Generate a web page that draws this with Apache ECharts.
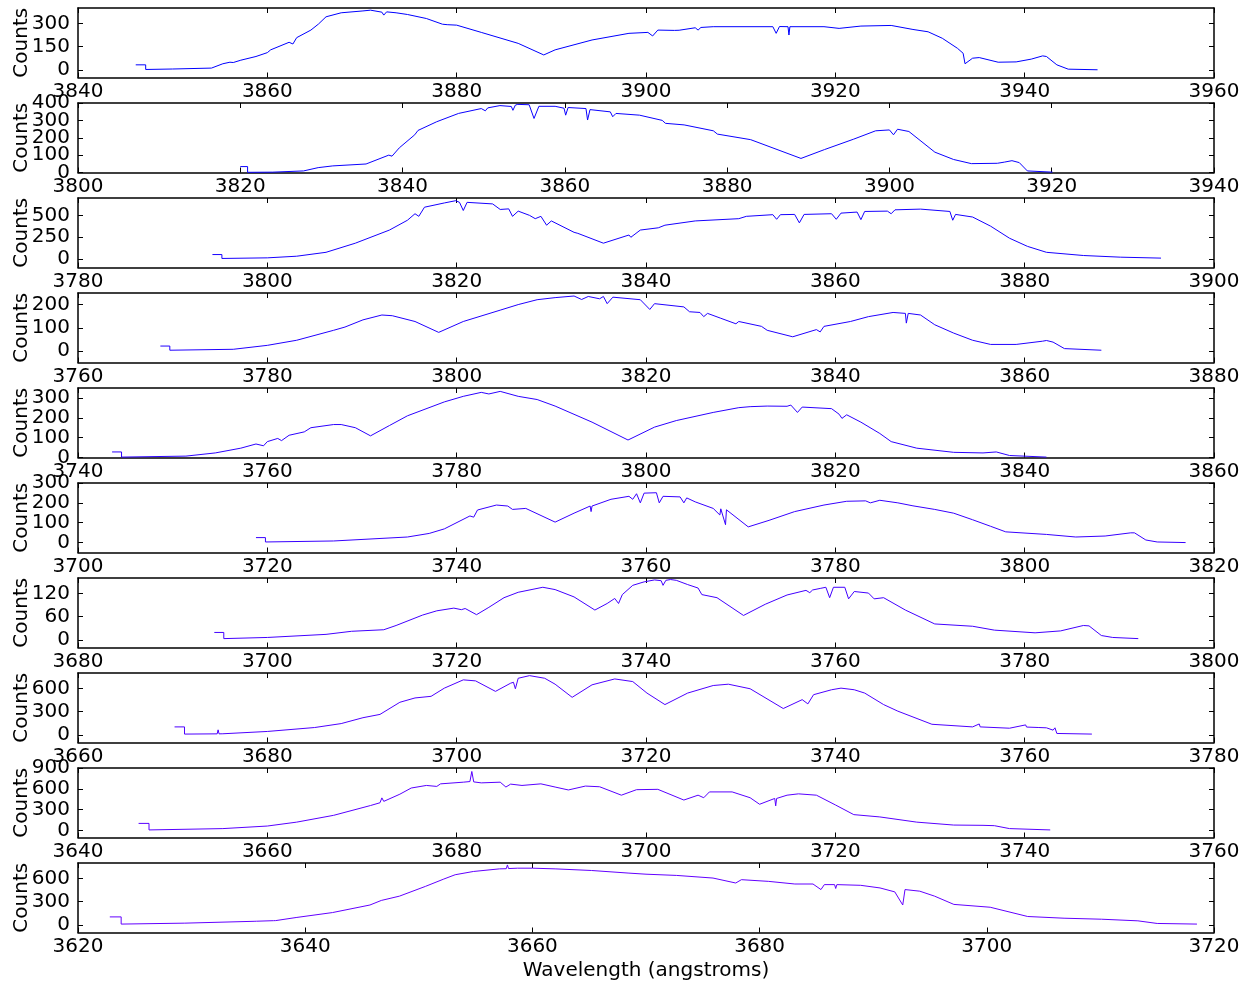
<!DOCTYPE html>
<html lang="en">
  <head>
    <meta charset="utf-8" />
    <title>Counts vs wavelength</title>
    <script src="https://cdn.jsdelivr.net/npm/echarts@6/dist/echarts.min.js"></script>
    <style>
      html, body { margin: 0; padding: 0; background: #fff; }
      #chart { width: 1252px; height: 985px; }
    </style>
  </head>
  <body>
    <div id="chart"></div>
    <script>
      // one spectrum order per panel, top to bottom (wavelength in angstroms, counts)
      var wave1 = [3846.1, 3847.15, 3847.15, 3850, 3854.1, 3855.3, 3856.05, 3856.4, 3857.2, 3858.8, 3860, 3860.35, 3862.3, 3862.7, 3863.1, 3864.6, 3865.4, 3866.2, 3867.8, 3870.1, 3870.9, 3872.1, 3872.3, 3872.6, 3873.6, 3874.8, 3876.8, 3878.5, 3878.7, 3879, 3880, 3882.6, 3886.5, 3889.2, 3890.4, 3894.3, 3898.2, 3900.2, 3900.7, 3901.25, 3903, 3903.2, 3903.5, 3905.2, 3905.5, 3905.8, 3907.1, 3913.4, 3913.75, 3914.1, 3915.0, 3915.1, 3915.2, 3918.8, 3920.4, 3922.7, 3925.9, 3928.2, 3929.8, 3931.3, 3932.9, 3933.5, 3933.7, 3934.5, 3935.2, 3937.2, 3939.1, 3940.7, 3941.9, 3942.3, 3943.4, 3944.6, 3947.7]
      var counts1 = [32, 32, 2, 5, 11, 39, 49, 47, 62, 86, 111, 129, 178, 167, 208, 257, 296, 343, 369, 381, 386, 373, 354, 375, 369, 358, 332, 295, 285, 292, 289, 242, 171, 96, 129, 193, 236, 242, 219, 257, 255, 248, 256, 272, 257, 274, 279, 279, 236, 280, 279, 225, 279, 279, 268, 283, 287, 261, 246, 204, 139, 107, 39, 75, 79, 49, 51, 69, 90, 86, 32, 4, 0]

      var wave2 = [3820, 3820.9, 3820.9, 3824, 3827.8, 3829.6, 3831.4, 3835.5, 3838.3, 3838.7, 3839.6, 3841.5, 3841.9, 3844.2, 3846.9, 3849.7, 3850.2, 3850.5, 3852, 3853.4, 3853.6, 3853.9, 3854.2, 3855.6, 3856.2, 3856.8, 3858.8, 3859.9, 3860.1, 3860.4, 3862.6, 3862.8, 3863.1, 3865.6, 3865.9, 3866.3, 3869.2, 3872.0, 3872.4, 3874.7, 3878.3, 3878.8, 3882.9, 3889.1, 3892, 3895.6, 3898.3, 3900, 3900.5, 3901, 3902.4, 3905.6, 3907.9, 3910.1, 3913.3, 3914.2, 3915.1, 3916, 3917, 3920.1]
      var counts2 = [34, 34, 1, 2, 9, 28, 38, 49, 100, 94, 142, 217, 242, 292, 340, 368, 355, 372, 385, 380, 358, 388, 392, 390, 311, 381, 381, 370, 330, 374, 368, 302, 362, 349, 321, 340, 330, 300, 283, 274, 240, 221, 189, 81, 132, 192, 240, 245, 217, 249, 236, 117, 75, 51, 53, 60, 68, 57, 9, 2]

      var wave3 = [3794.2, 3795.2, 3795.2, 3800, 3803.1, 3806.2, 3809.3, 3812.9, 3814.8, 3815.6, 3816, 3816.6, 3818.7, 3819.9, 3820.3, 3820.7, 3821.1, 3823.8, 3824.6, 3825.5, 3825.9, 3826.5, 3827.7, 3828.3, 3828.9, 3829.5, 3830, 3832.4, 3832.8, 3835.5, 3838.2, 3838.4, 3839.4, 3841.3, 3842, 3845.2, 3849.8, 3850.6, 3853.4, 3853.8, 3854.2, 3855.7, 3856.2, 3856.7, 3859.6, 3860.1, 3860.6, 3862.3, 3862.7, 3863.1, 3865.5, 3865.9, 3866.3, 3869, 3872.1, 3872.4, 3872.7, 3874.5, 3876.4, 3878.4, 3880.3, 3882.3, 3886.2, 3890.1, 3894.4]
      var counts3 = [49, 49, 4, 11, 30, 75, 180, 331, 444, 519, 489, 594, 643, 669, 650, 556, 650, 632, 568, 575, 489, 549, 500, 462, 489, 387, 436, 305, 293, 180, 274, 248, 331, 357, 387, 436, 462, 489, 508, 455, 508, 511, 414, 511, 519, 455, 526, 538, 451, 545, 549, 519, 564, 572, 545, 444, 511, 481, 376, 237, 143, 75, 38, 19, 8]

      var wave4 = [3768.7, 3769.7, 3769.7, 3776.4, 3780, 3783.1, 3787, 3788.2, 3790.1, 3792.1, 3793.2, 3795.6, 3798.1, 3800.7, 3804.6, 3806.5, 3808.5, 3810.4, 3812.4, 3813.2, 3813.9, 3815.1, 3815.5, 3815.9, 3816.5, 3819.4, 3820.4, 3820.9, 3824, 3824.6, 3825.7, 3826.1, 3826.5, 3827.9, 3829.5, 3829.8, 3832.2, 3832.8, 3835.5, 3838, 3838.4, 3838.8, 3841.6, 3843.5, 3846.1, 3847.4, 3847.5, 3847.7, 3849, 3850.5, 3852.5, 3854.5, 3856.4, 3859.1, 3861.9, 3862.3, 3863, 3864.2, 3868.1]
      var counts4 = [21, 21, 3, 7, 24, 46, 89, 103, 134, 155, 152, 127, 80, 127, 176, 200, 221, 230, 237, 222, 235, 225, 235, 204, 232, 221, 179, 204, 190, 169, 166, 148, 162, 141, 117, 127, 106, 89, 61, 92, 82, 106, 127, 148, 166, 162, 120, 162, 155, 113, 77, 46, 28, 28, 42, 45, 38, 10, 3]

      var wave5 = [3743.6, 3744.6, 3744.6, 3751.4, 3754.5, 3757.2, 3758.8, 3759.6, 3760, 3761.1, 3761.5, 3762.3, 3763.9, 3764.6, 3767, 3767.8, 3769.3, 3770.9, 3772.9, 3774.8, 3778.7, 3780.7, 3782.6, 3783.4, 3784.6, 3786.5, 3788.5, 3790.4, 3794.3, 3798.1, 3800.9, 3803.2, 3807.1, 3809.8, 3811, 3812.8, 3814.9, 3815.3, 3816, 3816.5, 3819.6, 3820.4, 3820.7, 3821.2, 3822.7, 3824.7, 3825.9, 3828.6, 3832.5, 3835.6, 3837, 3838.4, 3842.3]
      var counts5 = [28, 28, 2, 7, 23, 47, 68, 59, 80, 96, 85, 112, 129, 150, 166, 166, 150, 109, 161, 210, 280, 308, 328, 320, 333, 308, 292, 259, 178, 88, 153, 186, 227, 251, 256, 259, 258, 264, 227, 254, 246, 218, 197, 215, 178, 121, 80, 47, 26, 23, 28, 10, 2]

      var wave6 = [3718.8, 3719.8, 3719.8, 3727, 3734.8, 3737.1, 3738.7, 3741.4, 3741.8, 3742.2, 3744.2, 3745.4, 3745.9, 3747.3, 3750.4, 3752.4, 3754.1, 3754.2, 3754.3, 3756.3, 3758.2, 3758.6, 3759, 3759.4, 3759.8, 3761.1, 3761.4, 3761.8, 3763.6, 3764, 3764.3, 3765.2, 3767.1, 3767.8, 3767.9, 3768.4, 3768.5, 3770.8, 3773, 3775.7, 3778.8, 3781.2, 3783.2, 3783.7, 3784.7, 3786.6, 3788.2, 3790.5, 3792.5, 3794.5, 3796.4, 3798, 3802.3, 3805.4, 3808.5, 3811.2, 3811.6, 3812.8, 3814, 3817]
      var counts6 = [25, 25, 3, 8, 28, 46, 69, 134, 128, 164, 189, 184, 167, 172, 103, 148, 184, 156, 184, 218, 233, 218, 246, 200, 249, 251, 200, 233, 230, 200, 225, 205, 172, 139, 170, 90, 165, 79, 112, 156, 189, 208, 210, 200, 213, 200, 185, 167, 148, 115, 82, 54, 41, 28, 33, 49, 49, 13, 3, 0]

      var wave7 = [3694.4, 3695.4, 3695.4, 3700, 3706.2, 3708.9, 3712.3, 3713.6, 3716.4, 3717.9, 3719.7, 3720.5, 3720.9, 3722.1, 3723.4, 3725, 3726.5, 3729.1, 3730.4, 3732.4, 3734.6, 3735.9, 3736.7, 3737.1, 3737.5, 3738.6, 3739.8, 3740.9, 3741.6, 3741.8, 3742.1, 3742.6, 3743.2, 3744.4, 3745.5, 3745.9, 3747.5, 3750.3, 3752.6, 3754.9, 3756.9, 3757.3, 3757.6, 3758.4, 3759, 3759.4, 3759.8, 3761, 3761.4, 3762, 3763.5, 3764.1, 3765.1, 3767.4, 3770.5, 3774.5, 3776.8, 3781.1, 3783.8, 3786.2, 3786.8, 3788.1, 3789.3, 3792]
      var counts7 = [19, 19, 3, 6, 14, 22, 26, 37, 64, 75, 82, 78, 81, 65, 84, 109, 123, 136, 130, 111, 77, 94, 107, 94, 117, 141, 150, 155, 153, 141, 154, 156, 154, 143, 134, 117, 109, 63, 92, 116, 128, 122, 129, 133, 136, 109, 136, 136, 106, 125, 121, 106, 109, 77, 41, 35, 25, 18, 23, 37, 36, 11, 6, 3]

      var wave8 = [3670.2, 3671.25, 3671.25, 3674.7, 3674.8, 3674.9, 3675.3, 3680, 3685, 3687.8, 3690.1, 3691.9, 3694, 3695.6, 3697.3, 3698.7, 3700.7, 3702, 3704.1, 3705.7, 3706, 3706.2, 3706.5, 3707.7, 3709.3, 3710.4, 3712.2, 3714.3, 3716.7, 3718.6, 3720.1, 3722, 3724.4, 3727.1, 3728.7, 3731, 3734.5, 3736.5, 3737.1, 3737.7, 3739.6, 3740.6, 3742, 3743.1, 3745.1, 3746.6, 3750.2, 3754.5, 3755.2, 3755.3, 3758.4, 3760.1, 3760.2, 3761.5, 3762.3, 3763, 3763.2, 3763.4, 3767.1]
      var counts8 = [102, 102, 9, 12, 64, 12, 13, 43, 94, 145, 221, 264, 421, 477, 498, 604, 711, 698, 562, 668, 680, 596, 732, 766, 732, 655, 485, 647, 723, 689, 540, 391, 540, 638, 655, 596, 340, 455, 400, 519, 583, 604, 583, 540, 391, 306, 136, 102, 140, 102, 85, 128, 100, 94, 90, 60, 90, 17, 9]

      var wave9 = [3646.4, 3647.5, 3647.5, 3655.3, 3660, 3663.1, 3667, 3670.9, 3671.9, 3672.1, 3672.3, 3674, 3675.2, 3676.8, 3677.9, 3678.3, 3680.7, 3681.4, 3681.6, 3681.8, 3682.6, 3684.6, 3685.2, 3685.7, 3686.9, 3688.9, 3690.4, 3691.8, 3693.6, 3695.1, 3697.4, 3699, 3701.25, 3704, 3705.5, 3706.1, 3706.7, 3709.1, 3711, 3712, 3713.6, 3713.7, 3713.8, 3714.9, 3716.1, 3718, 3720, 3721.95, 3724.7, 3728.6, 3732.5, 3735.6, 3736.8, 3738.4, 3742.7]
      var counts9 = [103, 103, 9, 28, 65, 121, 219, 360, 400, 470, 420, 523, 612, 649, 635, 672, 696, 705, 850, 700, 686, 696, 626, 668, 649, 672, 626, 584, 640, 630, 509, 588, 593, 439, 509, 472, 556, 556, 472, 378, 462, 355, 462, 509, 528, 509, 369, 229, 196, 121, 79, 75, 70, 28, 9]

      var wave10 = [3622.8, 3623.8, 3623.8, 3629.4, 3635.5, 3635.6, 3635.7, 3637.2, 3637.3, 3637.4, 3639.2, 3642.4, 3645.7, 3646.7, 3648.3, 3650.6, 3652.2, 3653.2, 3654.8, 3657.1, 3657.7, 3657.8, 3657.9, 3658.7, 3660, 3662, 3665.2, 3668.5, 3670, 3672.7, 3675.9, 3677.9, 3678.4, 3680.8, 3683.1, 3684.7, 3685.4, 3685.7, 3686.6, 3686.7, 3686.8, 3688.9, 3690.6, 3691.9, 3692.6, 3692.8, 3694.1, 3695.4, 3697.1, 3700.3, 3703.6, 3706.8, 3710.1, 3713.3, 3715, 3718.5]
      var counts10 = [102, 102, 9, 21, 45, 70, 46, 53, 75, 54, 94, 158, 256, 315, 371, 498, 592, 648, 690, 724, 726, 775, 728, 733, 733, 724, 703, 669, 655, 639, 605, 541, 584, 562, 528, 528, 456, 520, 520, 470, 520, 511, 477, 426, 256, 456, 435, 371, 264, 227, 107, 85, 72, 51, 17, 9]

      // axis limits and y tick values per panel
      var xMin = [3840, 3800, 3780, 3760, 3740, 3700, 3680, 3660, 3640, 3620]
      var xMax = [3960, 3940, 3900, 3880, 3860, 3820, 3800, 3780, 3760, 3720]
      var yMin = [-50, 0, -100, -50, 0, -50, -20, -100, -100, -100]
      var yMax = [400, 400, 700, 250, 350, 300, 160, 800, 900, 800]
      var yTicks = [
        [0, 150, 300],
        [0, 100, 200, 300, 400],
        [0, 250, 500],
        [0, 100, 200],
        [0, 100, 200, 300],
        [0, 100, 200, 300],
        [0, 60, 120],
        [0, 300, 600],
        [0, 300, 600, 900],
        [0, 300, 600]
      ]

      var waves = [wave1, wave2, wave3, wave4, wave5, wave6, wave7, wave8, wave9, wave10]
      var counts = [counts1, counts2, counts3, counts4, counts5, counts6, counts7, counts8, counts9, counts10]
      var lineColors = ['#0000ff', '#0b00ff', '#1600ff', '#2100ff', '#2c00ff', '#3700ff', '#4200ff', '#4d00ff', '#5800ff', '#6300ff']

      var font = 'DejaVu Sans'
      var fontSize = 20
      var plain = function (v) { return String(v) }
      var frame = { show: true, onZero: false, lineStyle: { color: '#000', width: 1.5 } }
      var tick = { show: true, inside: true, length: 5, lineStyle: { color: '#000', width: 1 } }

      var grids = []
      var xAxes = []
      var yAxes = []
      var series = []
      var n = waves.length

      for (var i = 0; i < n; i++) {
        grids.push({ left: 78, width: 1136, top: 8 + i * 95, height: 69.5, outerBoundsMode: 'none', containLabel: false })
      }
      // bottom x axes with labels
      for (var i = 0; i < n; i++) {
        var bottom = {
          type: 'value', gridIndex: i, position: 'bottom',
          min: xMin[i], max: xMax[i], interval: 20,
          axisLine: frame, axisTick: tick, splitLine: { show: false },
          axisLabel: { color: '#000', fontFamily: font, fontSize: fontSize, margin: 4, formatter: plain, showMinLabel: true, showMaxLabel: true, hideOverlap: false }
        }
        if (i === n - 1) {
          bottom.name = 'Wavelength (angstroms)'
          bottom.nameLocation = 'middle'
          bottom.nameGap = 28
          bottom.nameMoveOverlap = false
          bottom.nameTextStyle = { color: '#000', fontFamily: font, fontSize: fontSize }
        }
        xAxes.push(bottom)
      }
      // top x axes: frame and ticks only
      for (var i = 0; i < n; i++) {
        xAxes.push({
          type: 'value', gridIndex: i, position: 'top',
          min: xMin[i], max: xMax[i], interval: 20,
          axisLine: frame, axisTick: tick, splitLine: { show: false },
          axisLabel: { show: false }
        })
      }
      // left y axes: frame, ticks, even-index labels and the title
      for (var i = 0; i < n; i++) {
        yAxes.push({
          type: 'value', gridIndex: i, position: 'left',
          min: yMin[i], max: yMax[i],
          axisLine: frame,
          axisTick: { show: true, inside: true, length: 5, lineStyle: { color: '#000', width: 1 }, customValues: yTicks[i] },
          splitLine: { show: false },
          axisLabel: {
            color: '#000', fontFamily: font, fontSize: fontSize, margin: 8, formatter: plain,
            customValues: yTicks[i].filter(function (v, k) { return k % 2 === 0 })
          },
          name: 'Counts', nameLocation: 'middle', nameGap: 46, nameMoveOverlap: false,
          nameTextStyle: { color: '#000', fontFamily: font, fontSize: fontSize }
        })
      }
      // right y axes: frame and ticks only
      for (var i = 0; i < n; i++) {
        yAxes.push({
          type: 'value', gridIndex: i, position: 'right',
          min: yMin[i], max: yMax[i],
          axisLine: frame,
          axisTick: { show: true, inside: true, length: 5, lineStyle: { color: '#000', width: 1 }, customValues: yTicks[i] },
          splitLine: { show: false },
          axisLabel: { show: false }
        })
      }
      // second left axis per panel carrying the odd-index labels (so close labels are not dropped)
      for (var i = 0; i < n; i++) {
        yAxes.push({
          type: 'value', gridIndex: i, position: 'left', offset: 0,
          min: yMin[i], max: yMax[i],
          axisLine: { show: false }, axisTick: { show: false }, splitLine: { show: false },
          axisLabel: {
            color: '#000', fontFamily: font, fontSize: fontSize, margin: 8, formatter: plain,
            customValues: yTicks[i].filter(function (v, k) { return k % 2 === 1 })
          }
        })
      }

      for (var i = 0; i < n; i++) {
        var pts = []
        for (var j = 0; j < waves[i].length; j++) {
          pts.push([waves[i][j], counts[i][j]])
        }
        series.push({
          type: 'line', xAxisIndex: i, yAxisIndex: i,
          data: pts, showSymbol: false, symbol: 'none', silent: true,
          lineStyle: { color: lineColors[i], width: 1 }
        })
      }

      var chart = echarts.init(document.getElementById('chart'))
      chart.setOption({
        animation: false,
        backgroundColor: '#fff',
        textStyle: { fontFamily: font },
        grid: grids,
        xAxis: xAxes,
        yAxis: yAxes,
        series: series
      })
    </script>
  </body>
</html>
